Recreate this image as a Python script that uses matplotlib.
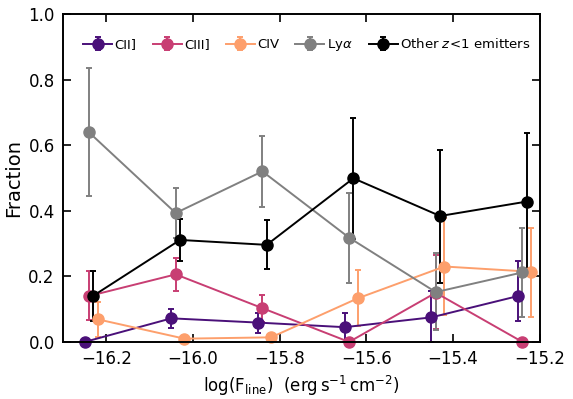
import matplotlib
matplotlib.use("Agg")
import matplotlib.pyplot as plt
import numpy as np

# Bin centres of log line flux
bins = [-16.235, -16.035, -15.835, -15.635, -15.435, -15.235]

labels = ["CII]", "CIII]", "CIV", r"Ly$\alpha$", r"Other $z\!<\!1$ emitters"]

cii_y   = [0.000, 0.072, 0.059, 0.045, 0.075, 0.140]
cii_lo  = [0.000, 0.029, 0.031, 0.045, 0.075, 0.077]
cii_hi  = [0.000, 0.028, 0.028, 0.044, 0.081, 0.107]

ciii_y  = [0.140, 0.206, 0.103, 0.000, 0.150, 0.000]
ciii_lo = [0.073, 0.051, 0.041, 0.000, 0.110, 0.000]
ciii_hi = [0.077, 0.050, 0.040, 0.000, 0.115, 0.000]

civ_y   = [0.069, 0.010, 0.014, 0.133, 0.230, 0.214]
civ_lo  = [0.053, 0.005, 0.005, 0.084, 0.148, 0.137]
civ_hi  = [0.052, 0.005, 0.005, 0.087, 0.147, 0.133]

lya_y   = [0.639, 0.393, 0.520, 0.318, 0.152, 0.212]
lya_lo  = [0.193, 0.077, 0.109, 0.139, 0.115, 0.137]
lya_hi  = [0.195, 0.077, 0.109, 0.135, 0.118, 0.135]

oth_y   = [0.141, 0.311, 0.296, 0.499, 0.384, 0.428]
oth_lo  = [0.076, 0.065, 0.074, 0.186, 0.203, 0.211]
oth_hi  = [0.076, 0.063, 0.076, 0.184, 0.201, 0.208]

xticks = [-16.2, -16.0, -15.8, -15.6, -15.4, -15.2]
yticks = [0.0, 0.2, 0.4, 0.6, 0.8, 1.0]

series = [
    (cii_y, cii_lo, cii_hi, -0.015, "#4a1079"),
    (ciii_y, ciii_lo, ciii_hi, -0.005, "#c83e73"),
    (civ_y, civ_lo, civ_hi, 0.015, "#fd9f6c"),
    (lya_y, lya_lo, lya_hi, -0.005, "#808080"),
    (oth_y, oth_lo, oth_hi, 0.005, "#000000"),
]

fig = plt.figure(figsize=(5.73, 3.99), dpi=100)
ax = fig.add_axes([0.110, 0.143, 0.832, 0.822])

for (y, lo, hi, off, col), lab in zip(series, labels):
    x = np.array(bins) + off
    ax.errorbar(x, y, yerr=[lo, hi], color=col, ecolor=col, marker="o",
                markersize=8, linewidth=1.4, elinewidth=1.4, capsize=2.5,
                capthick=1.4, label=lab, clip_on=False)

ax.set_xlim(-16.30, -15.20)
ax.set_ylim(0.0, 1.0)
ax.set_xticks(xticks)
ax.set_yticks(yticks)
ax.set_xticklabels([f"{t:.1f}".replace("-", "\u2212") for t in xticks])
ax.set_yticklabels([f"{t:.1f}" for t in yticks])
ax.tick_params(direction="in", top=True, right=True, length=6, width=1.2,
               labelsize=12, pad=6)
for s in ax.spines.values():
    s.set_linewidth(1.4)

ax.set_ylabel("Fraction", fontsize=14)
ax.set_xlabel(r"$\rm log(F_{line})\ \ (erg\,s^{-1}\,cm^{-2})$", fontsize=12)

ax.legend(loc="upper left", ncol=5, frameon=False, fontsize=9.5,
          handlelength=2.2, handletextpad=0.2, columnspacing=1.2,
          borderaxespad=0.5, bbox_to_anchor=(0.017, 0.965))

fig.savefig("out.png", dpi=100)
